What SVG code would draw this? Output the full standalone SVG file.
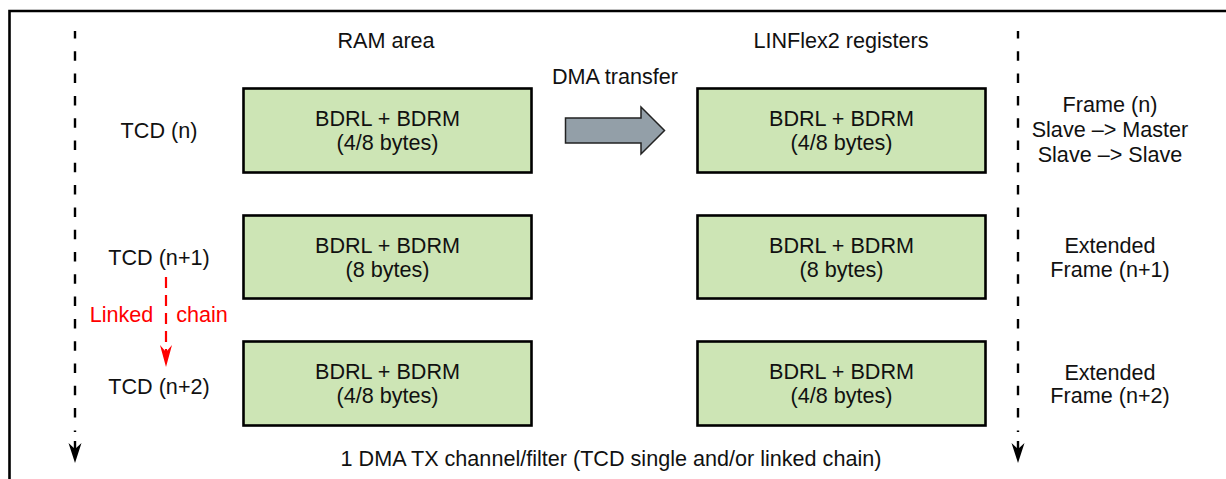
<svg xmlns="http://www.w3.org/2000/svg" width="1226" height="479" viewBox="0 0 1226 479">
  <style>
    text { font-family: "Liberation Sans", Arial, sans-serif; font-size: 21.6px; fill: #111; text-anchor: middle; }
    .red { fill: #ff0000; }
    .box { fill: #cde5b5; stroke: #000; stroke-width: 2.6; }
    .timeline { stroke: #000; stroke-width: 2.4; fill: none; stroke-dasharray: 9.5 12.8; }
    .chain { stroke: #ff0000; stroke-width: 2.2; fill: none; stroke-dasharray: 11 7; }
  </style>
  <rect width="1226" height="479" fill="#fff"/>
  <path d="M9.5,479 L9.5,11 L1226,11" fill="none" stroke="#000" stroke-width="2.6"/>

  <g id="headers">
    <text x="386" y="48">RAM area</text>
    <text x="841" y="48">LINFlex2 registers</text>
  </g>

  <g id="ram1"><rect class="box" x="243.5" y="88.5" width="288" height="84"/>
    <text x="387.5" y="126">BDRL + BDRM</text><text x="387.5" y="150">(4/8 bytes)</text></g>
  <g id="ram2"><rect class="box" x="243.5" y="215.5" width="288" height="83"/>
    <text x="387.5" y="253">BDRL + BDRM</text><text x="387.5" y="277">(8 bytes)</text></g>
  <g id="ram3"><rect class="box" x="243.5" y="341.5" width="288" height="84"/>
    <text x="387.5" y="379">BDRL + BDRM</text><text x="387.5" y="403">(4/8 bytes)</text></g>

  <g id="reg1"><rect class="box" x="697.5" y="88.5" width="288" height="84"/>
    <text x="841.5" y="126">BDRL + BDRM</text><text x="841.5" y="150">(4/8 bytes)</text></g>
  <g id="reg2"><rect class="box" x="697.5" y="215.5" width="288" height="83"/>
    <text x="841.5" y="253">BDRL + BDRM</text><text x="841.5" y="277">(8 bytes)</text></g>
  <g id="reg3"><rect class="box" x="697.5" y="341.5" width="288" height="84"/>
    <text x="841.5" y="379">BDRL + BDRM</text><text x="841.5" y="403">(4/8 bytes)</text></g>

  <g id="tcd-labels">
    <text x="159" y="138">TCD (n)</text>
    <text x="159" y="265">TCD (n+1)</text>
    <text x="159" y="394">TCD (n+2)</text>
  </g>

  <g id="frame-labels">
    <text x="1110" y="112">Frame (n)</text>
    <text x="1110" y="137">Slave –&gt; Master</text>
    <text x="1110" y="162">Slave –&gt; Slave</text>
    <text x="1110" y="253">Extended</text>
    <text x="1110" y="277">Frame (n+1)</text>
    <text x="1110" y="380">Extended</text>
    <text x="1110" y="403">Frame (n+2)</text>
  </g>

  <g id="dma-label"><text x="615" y="84">DMA transfer</text></g>

  <g id="connectors">
    <path id="dma-arrow" d="M565.5,118 L641,118 L641,107 L664.5,130.5 L641,154 L641,143 L565.5,143 Z" fill="#939fa8" stroke="#222" stroke-width="1.5" stroke-linejoin="miter"/>

    <g id="timeline-left">
      <line class="timeline" x1="75" y1="31" x2="75" y2="432" stroke-dashoffset="2"/>
      <line x1="75" y1="441" x2="75" y2="450" stroke="#000" stroke-width="2.4"/>
      <path d="M75,463 L68.5,443 L75,449 L81.5,443 Z" fill="#000"/>
    </g>
    <g id="timeline-right">
      <line class="timeline" x1="1018" y1="31" x2="1018" y2="432" stroke-dashoffset="2"/>
      <line x1="1018" y1="441" x2="1018" y2="450" stroke="#000" stroke-width="2.4"/>
      <path d="M1018,463 L1011.5,443 L1018,449 L1024.5,443 Z" fill="#000"/>
    </g>

    <g id="linked-chain">
      <line class="chain" x1="166" y1="277" x2="166" y2="352"/>
      <path d="M166,367 L160,345 L166,352 L172,345 Z" fill="#ff0000"/>
      <text class="red" x="121.5" y="322">Linked</text>
      <text class="red" x="202" y="322">chain</text>
    </g>
  </g>

  <g id="footer">
    <text x="611" y="466">1 DMA TX channel/filter (TCD single and/or linked chain)</text>
  </g>
</svg>
